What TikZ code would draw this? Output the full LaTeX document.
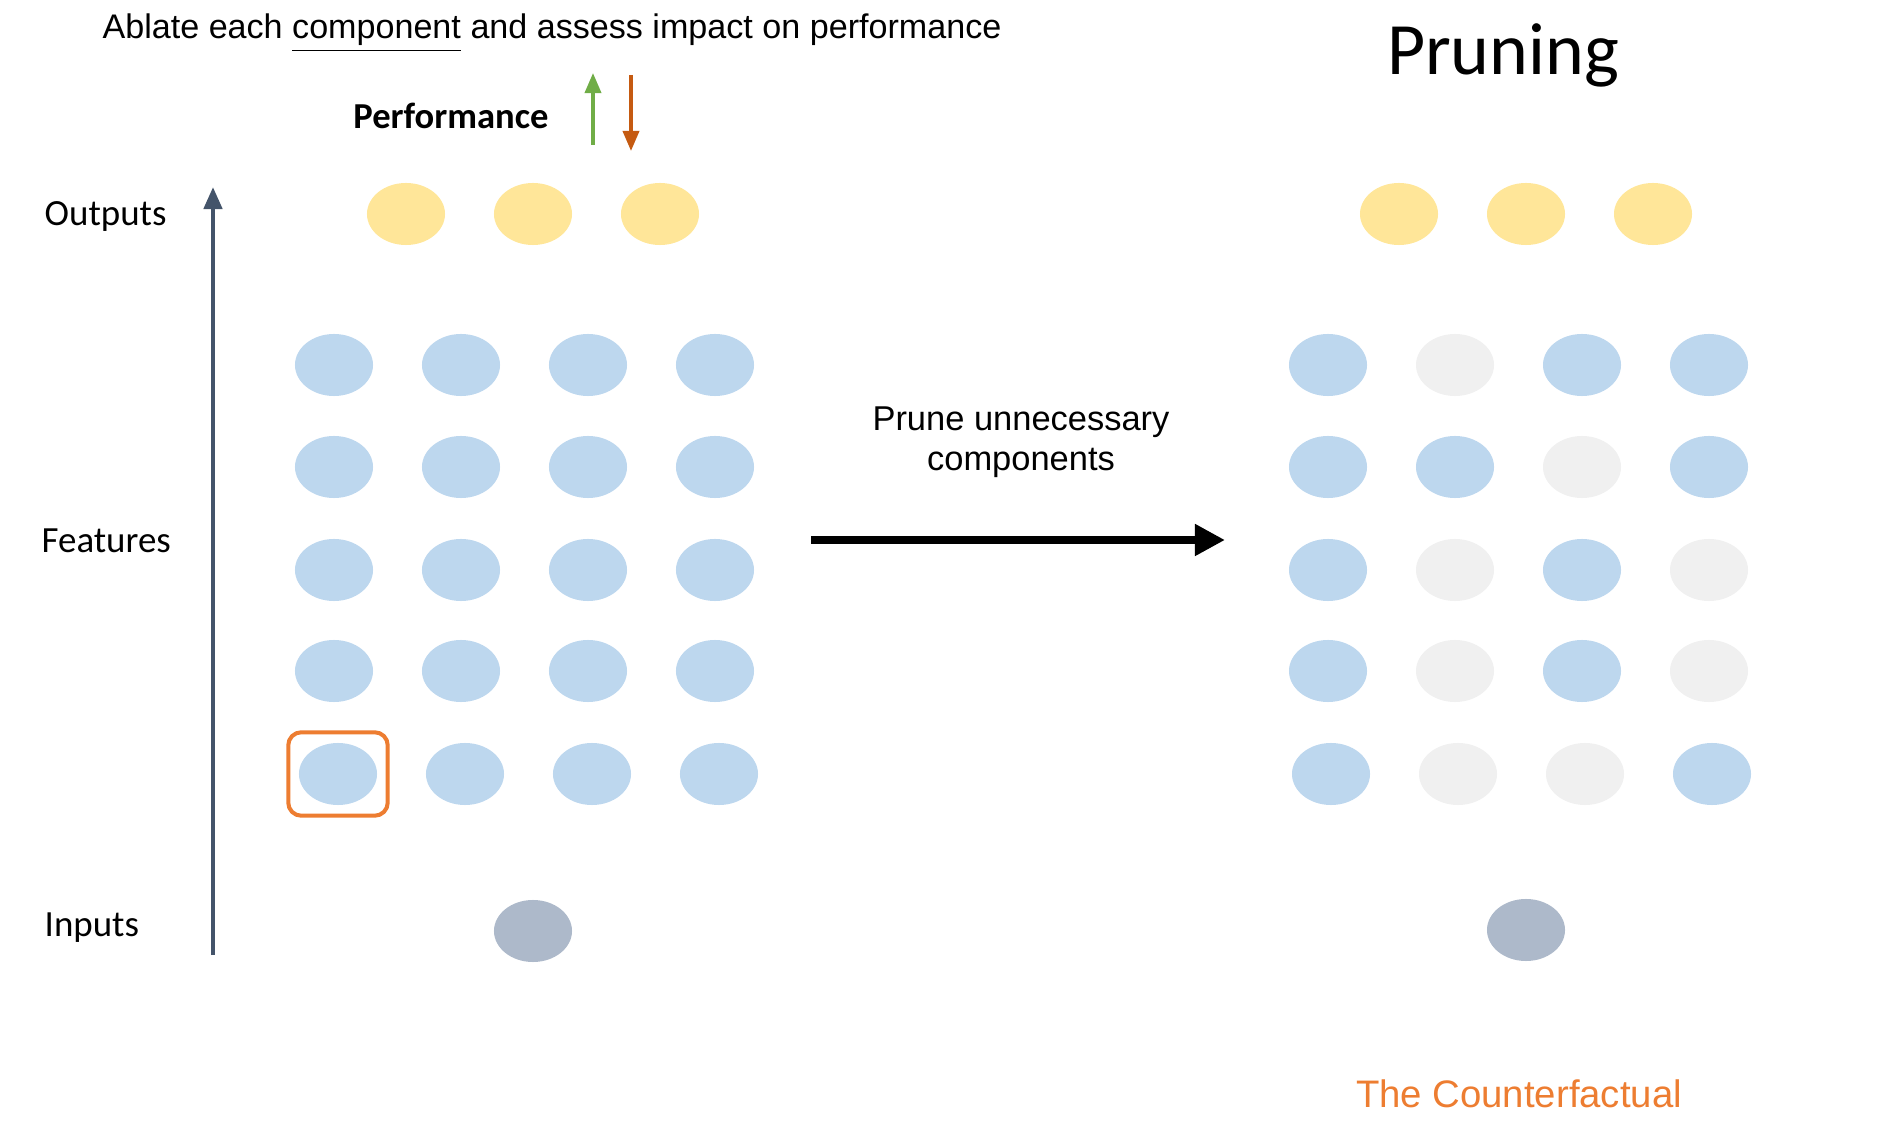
\documentclass[tikz,border=0pt]{standalone}
\usepackage{fontspec}
\setmainfont{Liberation Sans}
\newfontfamily\calib{Carlito}
\usepackage{tikz}
\usetikzlibrary{arrows.meta,positioning,fit,shapes.geometric}
\definecolor{cFeat}{HTML}{BDD7EE}
\definecolor{cOut}{HTML}{FFE699}
\definecolor{cIn}{HTML}{ADB9CA}
\definecolor{cOff}{HTML}{F0F0F0}
\definecolor{cAbl}{HTML}{ED7D31}
\definecolor{cAxis}{HTML}{44546A}
\definecolor{cUp}{HTML}{70AD47}
\definecolor{cDown}{HTML}{C55A11}
\tikzset{
  unit/.style     = {ellipse, draw=none, inner sep=0pt,
                     minimum width=7.8mm, minimum height=6.2mm},
  feat/.style     = {unit, fill=cFeat},
  outp/.style     = {unit, fill=cOut},
  inp/.style      = {unit, fill=cIn},
  ablate/.style   = {draw=cAbl, line width=0.04cm, rounded corners=1.3mm,
                     inner sep=1mm},
  layer/.style    = {anchor=west, inner sep=0pt,
                     font=\calib\fontsize{10.5}{12}\selectfont},
  headline/.style = {inner sep=0pt, font=\fontsize{9.7}{11}\selectfont},
  perf/.style     = {inner sep=0pt, font=\calib\bfseries\fontsize{10.4}{12}\selectfont},
  big/.style      = {anchor=base, inner sep=0pt, font=\calib\fontsize{21}{24}\selectfont},
  note/.style     = {align=center, inner sep=0pt,
                     font=\fontsize{9.8}{11.3}\selectfont},
  cf/.style       = {inner sep=0pt, text=cAbl, font=\fontsize{10.9}{13}\selectfont},
  axis/.style     = {draw=cAxis, line width=0.045cm,
                     -{Triangle[length=2.2mm, width=1.8mm]}},
  cueup/.style    = {draw=cUp, line width=0.035cm,
                     -{Triangle[length=2mm, width=1.6mm]}},
  cuedn/.style    = {draw=cDown, line width=0.035cm,
                     -{Triangle[length=2mm, width=1.6mm]}},
  prune/.style    = {draw=black, line width=0.085cm,
                     -{Triangle[length=3mm, width=3mm]}},
}
\begin{document}
\begin{tikzpicture}[x=0.01cm, y=-0.01cm]
  \useasboundingbox (0,0) rectangle (1896,1140);
  % headline and performance cue
  \node[headline] (ttl) at (552,33)
    {Ablate each \underline{component} and assess impact on performance};
  \node[perf] (perf) at (451,116) {Performance};
  \coordinate (upS) at (593,145); \coordinate (upE) at (593,73);
  \coordinate (dnS) at (631,75);  \coordinate (dnE) at (631,151);
  \draw[cueup] (upS) -- (upE);
  \draw[cuedn] (dnS) -- (dnE);
  % layer axis
  \coordinate (axS) at (213,955); \coordinate (axE) at (213,187);
  \draw[axis] (axS) -- (axE);
  \node[layer] (lOut)  at (44,217) {Outputs};
  \node[layer] (lFeat) at (41,541) {Features};
  \node[layer] (lIn)   at (44,928) {Inputs};
  % full model
  \foreach \c/\x in {1/406,2/533,3/660}
    \node[outp] (oL\c) at (\x,214) {};
  \foreach \r/\y/\dx in {1/365/0,2/467/0,3/570/0,4/671/0,5/774/4}
    \foreach \c/\x in {1/334,2/461,3/588,4/715}
      \node[feat] (fL\r\c) at (\x+\dx,\y) {};
  \node[inp] (inL) at (533,931) {};
  \node[ablate, fit=(fL51)] (abl) {};
  % pruning step
  \coordinate (prS) at (811,540); \coordinate (prE) at (1225,540);
  \draw[prune] (prS) -- (prE);
  \node[note] (prl) at (1021,442) {Prune unnecessary\\components};
  % pruned model
  \node[big] (hd) at (1503,75) {Pruning};
  \foreach \c/\x in {1/1399,2/1526,3/1653}
    \node[outp] (oR\c) at (\x,214) {};
  \foreach \r/\y/\dx/\pat in {1/365/0/{cFeat,cOff,cFeat,cFeat},
                              2/467/0/{cFeat,cFeat,cOff,cFeat},
                              3/570/0/{cFeat,cOff,cFeat,cOff},
                              4/671/0/{cFeat,cOff,cFeat,cOff},
                              5/774/3/{cFeat,cOff,cOff,cFeat}}
    \foreach \fc [count=\c] in \pat
      \node[unit, fill=\fc] (fR\r\c) at (1201+127*\c+\dx,\y) {};
  \node[inp] (inR) at (1526,930) {};
  \node[cf] (cf) at (1519,1094) {The Counterfactual};
\end{tikzpicture}
\end{document}
